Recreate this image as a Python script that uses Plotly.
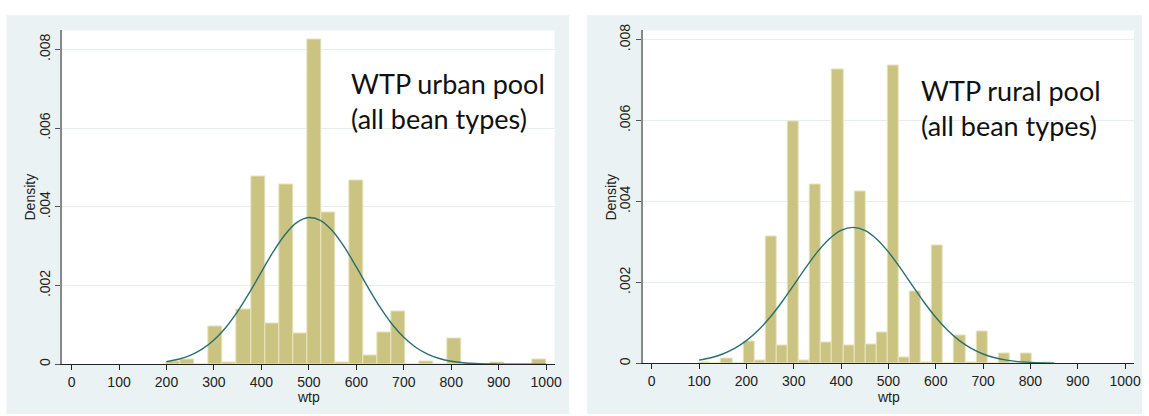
import plotly.graph_objects as go

# ---------------- data ----------------
# Urban pool histogram: 27 bins of equal width from 200 to 1000
urban_bin_start = 200.0
urban_bin_width = 800.0 / 27
urban_density = [0.00006, 0.00012, 0.0, 0.00095, 0.00004, 0.00138, 0.00476, 0.00104,
                 0.00458, 0.00078, 0.00826, 0.00385, 0.00004, 0.00467, 0.00022, 0.00082,
                 0.00134, 0.0, 0.00008, 0.0, 0.00065, 0.0, 0.0, 0.00004, 0.0, 0.0, 0.00012]

# Rural pool histogram: 32 bins of equal width from 100 to 850
rural_bin_start = 100.0
rural_bin_width = 750.0 / 32
rural_density = [0.00003, 0.0, 0.00013, 0.0, 0.00055, 0.00007, 0.00313, 0.00044,
                 0.00597, 0.00007, 0.00441, 0.00052, 0.00727, 0.00045, 0.00424, 0.00048,
                 0.00077, 0.00735, 0.000145, 0.00178, 0.00003, 0.00292, 0.0, 0.0007,
                 0.00003, 0.00079, 0.0, 0.00025, 0.0, 0.00025, 0.0, 0.00002]

# Normal density overlays
urban_curve_x = [200, 225, 250, 275, 300, 325, 350, 375, 400, 425, 450, 475, 500, 525, 550,
                 575, 600, 625, 650, 675, 700, 725, 750, 775, 800, 825, 850, 875, 900, 925,
                 950, 975, 1000]
urban_curve_y = [0.000068, 0.000128, 0.000228, 0.000385, 0.000617, 0.000934, 0.001342,
                 0.001825, 0.002347, 0.002860, 0.003299, 0.003605, 0.003728, 0.003652,
                 0.003387, 0.002974, 0.002473, 0.001947, 0.001452, 0.001025, 0.000685,
                 0.000433, 0.000260, 0.000147, 0.000079, 0.000040, 0.000019, 0.000009,
                 0.000004, 0.000002, 0.000001, 0.0000003, 0.0000001]

rural_curve_x = [100, 125, 150, 175, 200, 225, 250, 275, 300, 325, 350, 375, 400, 425, 450,
                 475, 500, 525, 550, 575, 600, 625, 650, 675, 700, 725, 750, 775, 800, 825, 850]
rural_curve_y = [0.000081, 0.000140, 0.000233, 0.000370, 0.000562, 0.000818, 0.001139,
                 0.001517, 0.001936, 0.002361, 0.002755, 0.003076, 0.003287, 0.003360,
                 0.003287, 0.003076, 0.002755, 0.002361, 0.001936, 0.001517, 0.001139,
                 0.000818, 0.000562, 0.000370, 0.000233, 0.000140, 0.000081, 0.000044,
                 0.000024, 0.000012, 0.000006]

x_tick_vals = [0, 100, 200, 300, 400, 500, 600, 700, 800, 900, 1000]
x_tick_text = ["0", "100", "200", "300", "400", "500", "600", "700", "800", "900", "1000"]
y_tick_vals = [0, 0.002, 0.004, 0.006, 0.008]
y_tick_text = ["0", ".002", ".004", ".006", ".008"]

x_title = "wtp"
y_title = "Density"
urban_label = "WTP urban pool<br>(all bean types)"
rural_label = "WTP rural pool<br>(all bean types)"

# ---------------- styling ----------------
W, H = 1149, 416
BAR_FILL = "#cac381"
BAR_EDGE = "#e8e4c0"
CURVE = "#2b6f6e"
PANEL_BG = "#eaf2f3"
GRID = "#e6eef0"
SANS = "Liberation Sans, Arial, sans-serif"
TICK_FONT = dict(family=SANS, size=14, color="#222222")
TITLE_FONT = dict(family=SANS, size=14, color="#222222")
LABEL_FONT = dict(family="Lato, sans-serif", size=27, color="#111111")


def px_x(s):
    return s / W


def px_y(s):
    return 1 - s / H


def centers(start, width, n):
    return [start + width * (i + 0.5) for i in range(n)]


fig = go.Figure()

fig.add_trace(go.Bar(
    x=centers(urban_bin_start, urban_bin_width, len(urban_density)), y=urban_density,
    width=urban_bin_width, marker=dict(color=BAR_FILL, line=dict(color=BAR_EDGE, width=1)),
    xaxis="x", yaxis="y", showlegend=False, hoverinfo="skip"))
fig.add_trace(go.Scatter(
    x=urban_curve_x, y=urban_curve_y, mode="lines",
    line=dict(color=CURVE, width=1.4, shape="spline", smoothing=1.0),
    xaxis="x", yaxis="y", showlegend=False, hoverinfo="skip"))

fig.add_trace(go.Bar(
    x=centers(rural_bin_start, rural_bin_width, len(rural_density)), y=rural_density,
    width=rural_bin_width, marker=dict(color=BAR_FILL, line=dict(color=BAR_EDGE, width=1)),
    xaxis="x2", yaxis="y2", showlegend=False, hoverinfo="skip"))
fig.add_trace(go.Scatter(
    x=rural_curve_x, y=rural_curve_y, mode="lines",
    line=dict(color=CURVE, width=1.4, shape="spline", smoothing=1.0),
    xaxis="x2", yaxis="y2", showlegend=False, hoverinfo="skip"))

xaxis_common = dict(
    tickmode="array", tickvals=x_tick_vals, ticktext=x_tick_text,
    ticks="outside", ticklen=5, tickwidth=1, tickcolor="#222222",
    ticklabelstandoff=0,
    showline=True, linecolor="#222222", linewidth=1,
    showgrid=False, zeroline=False, tickfont=TICK_FONT,
)
yaxis_common = dict(
    tickmode="array", tickvals=y_tick_vals, ticktext=y_tick_text, tickangle=-90,
    ticks="outside", ticklen=5, tickwidth=1, tickcolor="#555555",
    showline=True, linecolor="#888888", linewidth=1.8,
    showgrid=True, gridcolor=GRID, gridwidth=1.2, zeroline=False, tickfont=TICK_FONT,
)

annotations = [
    dict(text=urban_label, xref="paper", yref="paper", x=px_x(350.7), y=px_y(59),
         xanchor="left", yanchor="top", align="left", showarrow=False, font=LABEL_FONT),
    dict(text=rural_label, xref="paper", yref="paper", x=px_x(924.8), y=px_y(66.5),
         xanchor="left", yanchor="top", align="left", showarrow=False, font=LABEL_FONT),
]
# axis titles (Stata places them tight to the tick labels)
for xa in ("x", "x2"):
    annotations.append(dict(text=x_title, xref=xa + " domain", yref="paper", x=0.5, y=px_y(398.5),
                            xanchor="center", yanchor="middle", showarrow=False, font=TITLE_FONT))
annotations.append(dict(text=y_title, xref="paper", yref="y domain", x=px_x(30.3), y=0.5,
                        textangle=-90, xanchor="center", yanchor="middle", showarrow=False,
                        font=TITLE_FONT))
annotations.append(dict(text=y_title, xref="paper", yref="y2 domain", x=px_x(614.4), y=0.5,
                        textangle=-90, xanchor="center", yanchor="middle", showarrow=False,
                        font=TITLE_FONT))

fig.update_layout(
    width=W, height=H,
    margin=dict(l=0, r=0, t=0, b=0),
    paper_bgcolor="white", plot_bgcolor="white",
    bargap=0,
    xaxis=dict(xaxis_common, domain=[px_x(62.7), px_x(558)], range=[-19.5, 1017.8], anchor="y"),
    yaxis=dict(yaxis_common, domain=[px_y(365.2), px_y(24)], range=[0, 0.00848], anchor="x"),
    xaxis2=dict(xaxis_common, domain=[px_x(646.7), px_x(1141)], range=[-18.9, 1018.9], anchor="y2"),
    yaxis2=dict(yaxis_common, domain=[px_y(364.3), px_y(24)], range=[0, 0.008225], anchor="x2"),
    shapes=[
        dict(type="rect", xref="paper", yref="paper", layer="below",
             x0=px_x(6.5), x1=px_x(572.7), y0=0, y1=px_y(8.5),
             fillcolor=PANEL_BG, line=dict(width=0)),
        dict(type="rect", xref="paper", yref="paper", layer="below",
             x0=px_x(590.5), x1=1, y0=0, y1=px_y(8.5),
             fillcolor=PANEL_BG, line=dict(width=0)),
        dict(type="rect", xref="x domain", yref="y domain", layer="below",
             x0=0, x1=1, y0=0, y1=1, fillcolor="white", line=dict(width=0)),
        dict(type="rect", xref="x2 domain", yref="y2 domain", layer="below",
             x0=0, x1=1, y0=0, y1=1, fillcolor="white", line=dict(width=0)),
    ],
    annotations=annotations,
)

# remove the browser's default 8px body margin so the figure fills the window exactly
fig.write_html("out.html", config={"displayModeBar": False},
               post_script="document.body.style.margin='0';document.body.style.overflow='hidden';")
